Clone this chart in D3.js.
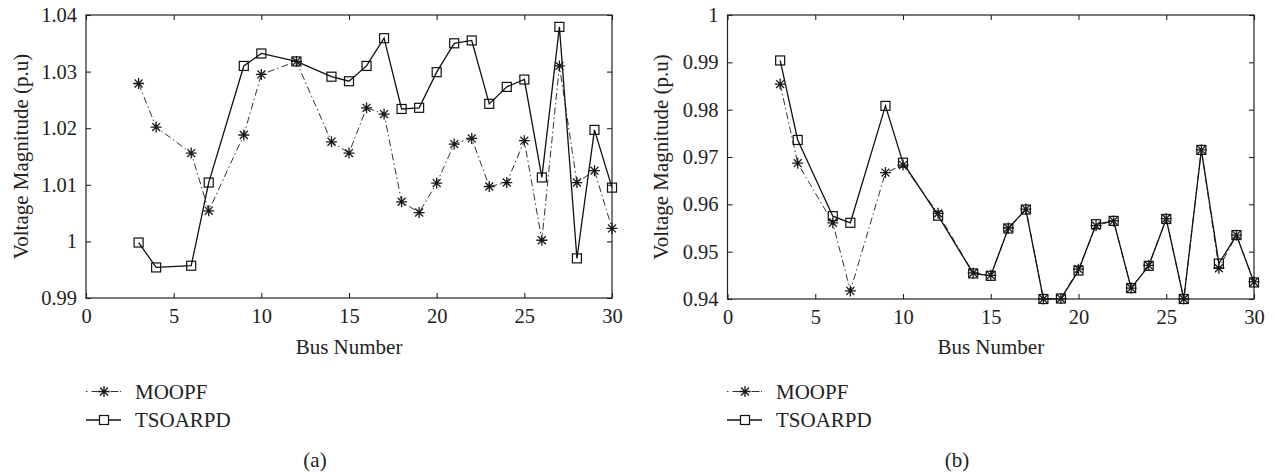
<!DOCTYPE html>
<html>
<head>
<script src="https://d3js.org/d3.v7.min.js"></script>
<style>
body { margin: 0; background: white; }
text { font-family: "Liberation Serif", "Times New Roman", serif; fill: #222; }
</style>
</head>
<body>
<svg id="chart" width="1275" height="476"></svg>
<script>
// bus numbers (load buses of the IEEE 30 system)
var buses = [3,4,6,7,9,10,12,14,15,16,17,18,19,20,21,22,23,24,25,26,27,28,29,30];

// panel (a)
var moopfA = [1.0279,1.0202,1.0156,1.0054,1.0188,1.0295,1.0318,1.0176,1.0156,1.0236,1.0225,1.0070,1.0051,1.0103,1.0172,1.0182,1.0097,1.0104,1.0178,1.0002,1.0310,1.0104,1.0125,1.0023];
var tsoarpdA = [0.9998,0.9954,0.9957,1.0104,1.0310,1.0332,1.0318,1.0291,1.0283,1.0310,1.0359,1.0234,1.0236,1.0299,1.0350,1.0355,1.0243,1.0273,1.0286,1.0113,1.0379,0.9970,1.0197,1.0095];

// panel (b)
var moopfB = [0.9854,0.9687,0.9561,0.9417,0.9667,0.9683,0.9581,0.9455,0.9450,0.9550,0.9590,0.9400,0.9401,0.9463,0.9555,0.9565,0.9423,0.9471,0.9570,0.9400,0.9715,0.9465,0.9535,0.9436];
var tsoarpdB = [0.9904,0.9736,0.9575,0.9561,0.9808,0.9688,0.9576,0.9454,0.9449,0.9549,0.9589,0.9400,0.9401,0.9460,0.9558,0.9565,0.9423,0.9470,0.9569,0.9400,0.9715,0.9475,0.9535,0.9435];

var xTicks = [0,5,10,15,20,25,30];
var yTicksA = [0.99,1,1.01,1.02,1.03,1.04];
var yTicksB = [0.94,0.95,0.96,0.97,0.98,0.99,1];
var seriesNames = ["MOOPF","TSOARPD"];

var svg = d3.select("#chart");
var fmt = function(d) { return d3.format("~g")(d); };

function starPath(r) {
  var d = r * 0.72;
  return "M" + (-r) + ",0H" + r + "M0," + (-r) + "V" + r +
         "M" + (-d) + "," + (-d) + "L" + d + "," + d +
         "M" + (-d) + "," + d + "L" + d + "," + (-d);
}

function panel(opt) {
  var x = d3.scaleLinear().domain([0,30]).range([opt.left, opt.right]);
  var y = d3.scaleLinear().domain(opt.ydom).range([opt.bottom, opt.top]);
  var g = svg.append("g");

  // box
  g.append("rect")
    .attr("x", opt.left).attr("y", opt.top)
    .attr("width", opt.right - opt.left).attr("height", opt.bottom - opt.top)
    .attr("fill", "none").attr("stroke", "#222").attr("stroke-width", 1.2);

  // axes, ticks inward
  var ax = g.append("g").attr("transform", "translate(0," + opt.bottom + ")")
    .call(d3.axisBottom(x).tickValues(xTicks).tickFormat(fmt).tickSizeInner(-5).tickSizeOuter(0).tickPadding(10));
  var axT = g.append("g").attr("transform", "translate(0," + opt.top + ")")
    .call(d3.axisTop(x).tickValues(xTicks).tickFormat("").tickSizeInner(-5).tickSizeOuter(0));
  var ay = g.append("g").attr("transform", "translate(" + opt.left + ",0)")
    .call(d3.axisLeft(y).tickValues(opt.yticks).tickFormat(fmt).tickSizeInner(-5).tickSizeOuter(0).tickPadding(9));
  var ayR = g.append("g").attr("transform", "translate(" + opt.right + ",0)")
    .call(d3.axisRight(y).tickValues(opt.yticks).tickFormat("").tickSizeInner(-5).tickSizeOuter(0));
  [ax, axT, ay, ayR].forEach(function(a) {
    a.select(".domain").remove();
    a.selectAll("line").attr("stroke", "#222").attr("stroke-width", 1.1);
    a.selectAll("text").style("font-family", "Liberation Serif, serif").style("font-size", "20.5px").attr("fill", "#222");
  });

  var line = d3.line().x(function(d) { return x(d[0]); }).y(function(d) { return y(d[1]); });
  var mo = buses.map(function(b, i) { return [b, opt.moopf[i]]; });
  var ts = buses.map(function(b, i) { return [b, opt.tsoarpd[i]]; });

  g.append("path").datum(mo).attr("d", line)
    .attr("fill", "none").attr("stroke", "#333").attr("stroke-width", 1)
    .attr("stroke-dasharray", "7,3,1.5,3");
  g.append("path").datum(ts).attr("d", line)
    .attr("fill", "none").attr("stroke", "#111").attr("stroke-width", 1.3);

  g.selectAll(".star").data(mo).enter().append("path")
    .attr("transform", function(d) { return "translate(" + x(d[0]) + "," + y(d[1]) + ")"; })
    .attr("d", starPath(5.5)).attr("stroke", "#1a1a1a").attr("stroke-width", 1.3).attr("fill", "none");
  g.selectAll(".sq").data(ts).enter().append("rect")
    .attr("x", function(d) { return x(d[0]) - 4.5; })
    .attr("y", function(d) { return y(d[1]) - 4.5; })
    .attr("width", 9).attr("height", 9)
    .attr("fill", "none").attr("stroke", "#111").attr("stroke-width", 1.2);

  // labels
  g.append("text").attr("x", (opt.left + opt.right) / 2).attr("y", 354)
    .attr("text-anchor", "middle").style("font-size", "21px").text("Bus Number");
  g.append("text").attr("transform", "translate(" + opt.ylabX + "," + ((opt.top + opt.bottom) / 2) + ") rotate(-90)")
    .attr("text-anchor", "middle").attr("dy", "0.35em").style("font-size", "21px").text("Voltage Magnitude (p.u)");
  g.append("text").attr("x", opt.capX).attr("y", 467)
    .attr("text-anchor", "middle").style("font-size", "21px").text(opt.caption);

  // legend
  var lx = opt.legX, rows = [391.5, 420];
  var lg = g.append("g");
  lg.append("line").attr("x1", lx).attr("x2", lx + 35).attr("y1", rows[0]).attr("y2", rows[0])
    .attr("stroke", "#333").attr("stroke-width", 1).attr("stroke-dasharray", "1.5,4,16,3,8");
  lg.append("path").attr("transform", "translate(" + (lx + 18) + "," + rows[0] + ")")
    .attr("d", starPath(5.5)).attr("stroke", "#1a1a1a").attr("stroke-width", 1.3).attr("fill", "none");
  lg.append("line").attr("x1", lx).attr("x2", lx + 35).attr("y1", rows[1]).attr("y2", rows[1])
    .attr("stroke", "#111").attr("stroke-width", 1.3);
  lg.append("rect").attr("x", lx + 13.5).attr("y", rows[1] - 4.5).attr("width", 9).attr("height", 9)
    .attr("fill", "white").attr("stroke", "#111").attr("stroke-width", 1.2);
  lg.selectAll(".lt").data(seriesNames).enter().append("text")
    .attr("x", lx + 49).attr("y", function(d, i) { return rows[i]; })
    .attr("dy", "0.35em").style("font-size", "21px").text(function(d) { return d; });
}

panel({left: 86, right: 612, top: 15, bottom: 298, ydom: [0.99, 1.04], yticks: yTicksA,
       moopf: moopfA, tsoarpd: tsoarpdA, ylabX: 21, capX: 315, caption: "(a)", legX: 86});
panel({left: 727.5, right: 1254, top: 15, bottom: 299, ydom: [0.94, 1], yticks: yTicksB,
       moopf: moopfB, tsoarpd: tsoarpdB, ylabX: 661, capX: 957, caption: "(b)", legX: 727});
</script>
</body>
</html>
